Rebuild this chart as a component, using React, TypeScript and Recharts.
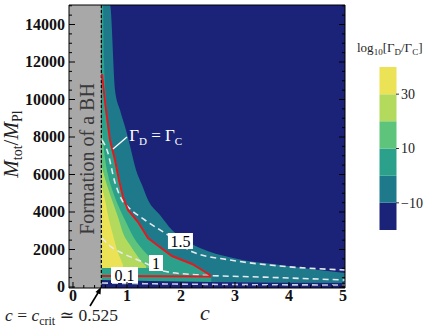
import React from "react";
import {
  ComposedChart,
  BarChart,
  Bar,
  Cell,
  Area,
  Line,
  XAxis,
  YAxis,
  CartesianGrid,
  ReferenceArea,
  ReferenceLine,
  ReferenceDot,
} from "recharts";

const serif = "Liberation Serif, DejaVu Serif, serif";

// colour levels of log10[GammaD/GammaC]
const bandEdges = [-20, -10, 0, 10, 20, 30, 40];
const bandColors = ["#1b2379", "#1e7a8b", "#2ba18c", "#5ec47b", "#b3da5d", "#ebe255"];
const barTicks = [-10, 10, 30];

const cCrit = 0.525;
const xMajor = [0, 1, 2, 3, 4, 5];
const yMajor = [0, 2000, 4000, 6000, 8000, 10000, 12000, 14000];

// contour edges, [c, Mtot/MPl]
const edgeM10: [number, number][] = [
  [0.525, 15040], [0.685, 15040], [0.778, 10500], [0.87, 9440], [0.981, 8370],
  [1.074, 7310], [1.167, 6240], [1.278, 5440], [1.389, 4640], [1.611, 3840],
  [1.833, 3040], [2.074, 2510], [2.352, 2080], [2.963, 1550], [3.833, 1170], [5.037, 750],
];
const edge0: [number, number][] = [
  [0.525, 15040], [0.556, 15040], [0.574, 12100], [0.611, 9970], [0.69, 7840],
  [0.79, 6773], [0.87, 5707], [0.94, 4800], [1.04, 4107], [1.22, 3467],
  [1.41, 2613], [1.57, 2240], [1.85, 1653], [2.22, 1227], [2.41, 907], [2.56, 640],
];
const edge10: [number, number][] = [
  [0.525, 8907], [0.574, 7307], [0.648, 5973], [0.741, 5067], [0.833, 4373],
  [0.963, 3573], [1.13, 2613], [1.296, 1973], [1.444, 1547], [1.611, 1173],
];
const edge20: [number, number][] = [
  [0.525, 6507], [0.611, 5600], [0.722, 4640], [0.833, 3733], [0.926, 2880],
  [1.056, 2240], [1.167, 1760], [1.278, 1333], [1.352, 1120],
];
const edge30: [number, number][] = [
  [0.525, 5440], [0.593, 4640], [0.667, 3573], [0.741, 2773], [0.815, 1973],
  [0.889, 1440], [0.926, 1173],
];
const lowStrip: [number, number][] = [[0.525, 1010], [1.7, 1010]];
const lowNavy: [number, number][] = [[0.525, 373], [1.426, 320], [2.537, 267], [5.037, 213]];

// Gamma_D = Gamma_C (red), closed along the bottom
const redEdge: [number, number][] = [
  [0.537, 11360], [0.611, 9440], [0.685, 7840], [0.778, 6773], [0.852, 5707],
  [0.926, 4800], [1.019, 4107], [1.204, 3467], [1.389, 2613], [1.556, 2240],
  [1.833, 1653], [2.204, 1227], [2.389, 907], [2.537, 640], [2.537, 560], [0.537, 587],
];
// dashed curves
const dash15: [number, number][] = [
  [0.537, 7840], [0.63, 7307], [0.78, 5547], [0.907, 4640], [1.02, 4267],
  [1.33, 3573], [1.76, 2773], [2.22, 1867], [2.91, 1440], [3.83, 1120], [5.037, 907],
];
const dash1: [number, number][] = [
  [0.537, 2613], [0.685, 2187], [0.87, 1867], [1.111, 1547], [1.333, 1280],
  [1.667, 853], [2.352, 640], [3.463, 533], [5.037, 373],
];
const dash01: [number, number][] = [[0.537, 213], [1.5, 170], [3, 130], [5.037, 107]];

const curveLabels = [
  { text: "1.5", c: 1.99, M: 2453, w: 25 },
  { text: "1", c: 1.537, M: 1280, w: 14 },
  { text: "0.1", c: 0.954, M: 640, w: 27 },
];

const rows = (pts: [number, number][]) => pts.map(([c, M]) => ({ c, M }));

const xTicks = Array.from({ length: 26 }, (_, i) => +(i * 0.2).toFixed(1));
const yTicks = Array.from({ length: 31 }, (_, i) => i * 500);

const isMajorX = (v: number) => xMajor.some((m) => Math.abs(m - v) < 1e-6);
const isMajorY = (v: number) => yMajor.includes(v);

function tickFor(side: "l" | "r" | "b" | "t") {
  return (p: any) => {
    const v = p.payload.value;
    const major = side === "l" || side === "r" ? isMajorY(v) : isMajorX(v);
    const len = major ? 6 : 3;
    const { x, y } = p;
    if (side === "l")
      return (
        <g>
          <line x1={x} y1={y} x2={x + len} y2={y} stroke="#000" />
          {major && (
            <text x={x - 4} y={y + 5} textAnchor="end" fontFamily={serif} fontSize={16} fontWeight="bold" fill="#111">
              {v}
            </text>
          )}
        </g>
      );
    if (side === "r") return <line x1={x} y1={y} x2={x - len} y2={y} stroke="#000" />;
    if (side === "t") return <line x1={x} y1={y} x2={x} y2={y + len} stroke="#000" />;
    return (
      <g>
        <line x1={x} y1={y} x2={x} y2={y - len} stroke="#000" />
        {major && (
          <text x={x} y={y + 12.5} textAnchor="middle" fontFamily={serif} fontSize={16} fontWeight="bold" fill="#111">
            {v}
          </text>
        )}
      </g>
    );
  };
}

const axisCommon = {
  type: "number" as const,
  allowDataOverflow: true,
  tickSize: 0,
  tickMargin: 0,
  tickLine: false,
  interval: 0 as const,
  axisLine: { stroke: "#000" },
};

const colorBar = [
  { x: 0.5, range: bandEdges.slice(0, 2) },
  { x: 0.5, range: bandEdges.slice(1, 3) },
  { x: 0.5, range: bandEdges.slice(2, 4) },
  { x: 0.5, range: bandEdges.slice(3, 5) },
  { x: 0.5, range: bandEdges.slice(4, 6) },
  { x: 0.5, range: bandEdges.slice(5, 7) },
];

export default function App() {
  const fills: [[number, number][], string][] = [
    [edgeM10, bandColors[1]],
    [edge0, bandColors[2]],
    [edge10, bandColors[3]],
    [edge20, bandColors[4]],
    [edge30, bandColors[5]],
    [lowStrip, bandColors[2]],
    [lowNavy, bandColors[0]],
  ];

  return (
    <div style={{ position: "absolute", left: 0, top: 0, width: 444, height: 327, background: "#fff" }}>
      <ComposedChart width={444} height={327} margin={{ top: 0, right: 94, bottom: 9, left: 9 }}>
        <CartesianGrid horizontal={false} vertical={false} fill={bandColors[0]} xAxisId="b" yAxisId="l" />
        <XAxis xAxisId="b" dataKey="c" domain={[-0.074, 5.037]} ticks={xTicks} height={30} tick={tickFor("b")} {...axisCommon} />
        <XAxis xAxisId="t" orientation="top" domain={[-0.074, 5.037]} ticks={xTicks} height={5} tick={tickFor("t")} {...axisCommon} />
        <YAxis yAxisId="l" domain={[-53, 15040]} ticks={yTicks} width={60} tick={tickFor("l")} {...axisCommon} />
        <YAxis yAxisId="r" orientation="right" domain={[-53, 15040]} ticks={yTicks} width={5} tick={tickFor("r")} {...axisCommon} />

        <ReferenceArea xAxisId="b" yAxisId="l" x1={-0.074} x2={cCrit} fill="#a8a8a8" fillOpacity={1} stroke="none" />

        {fills.map(([pts, col], i) => (
          <Area
            key={`band-${i}`}
            xAxisId="b"
            yAxisId="l"
            data={rows(pts)}
            dataKey="M"
            type="monotoneX"
            baseValue="dataMin"
            fill={col}
            fillOpacity={1}
            stroke="none"
            dot={false}
            activeDot={false}
            isAnimationActive={false}
          />
        ))}

        <ReferenceLine xAxisId="b" yAxisId="l" x={cCrit} stroke="#000" strokeDasharray="3 2" strokeWidth={1.2} />

        <Line xAxisId="b" yAxisId="l" data={rows(dash15)} dataKey="M" type="monotoneX" stroke="#e6e9f0" strokeWidth={1.6} strokeDasharray="6 4" dot={false} activeDot={false} isAnimationActive={false} />
        <Line xAxisId="b" yAxisId="l" data={rows(dash1)} dataKey="M" type="monotoneX" stroke="#e6e9f0" strokeWidth={1.6} strokeDasharray="6 4" dot={false} activeDot={false} isAnimationActive={false} />
        <Line xAxisId="b" yAxisId="l" data={rows(dash01)} dataKey="M" type="monotoneX" stroke="#c9cde4" strokeWidth={1.6} strokeDasharray="6 4" dot={false} activeDot={false} isAnimationActive={false} />
        <Line xAxisId="b" yAxisId="l" data={rows(redEdge)} dataKey="M" type="linear" stroke="#e3191f" strokeWidth={2} dot={false} activeDot={false} isAnimationActive={false} />

        <ReferenceLine xAxisId="b" yAxisId="l" segment={[{ x: 0.74, y: 7360 }, { x: 1.0, y: 8000 }]} stroke="#fff" strokeWidth={1.3} />
        <ReferenceDot
          xAxisId="b"
          yAxisId="l"
          x={1.04}
          y={8000}
          r={0}
          shape={(p: any) => (
            <text x={p.cx} y={p.cy + 4} fontFamily={serif} fontSize={17} fill="#fff">
              Γ<tspan fontSize={11} dy={4}>D</tspan>
              <tspan dy={-4}> = Γ</tspan>
              <tspan fontSize={11} dy={4}>C</tspan>
            </text>
          )}
        />
        {curveLabels.map((l) => (
          <ReferenceDot
            key={l.text}
            xAxisId="b"
            yAxisId="l"
            x={l.c}
            y={l.M}
            r={0}
            shape={(p: any) => (
              <g>
                <rect x={p.cx - l.w / 2} y={p.cy - 8} width={l.w} height={16} fill="#fff" />
                <text x={p.cx} y={p.cy + 5.5} textAnchor="middle" fontFamily={serif} fontSize={16} fill="#000">
                  {l.text}
                </text>
              </g>
            )}
          />
        ))}
      </ComposedChart>

      <div style={{ position: "absolute", left: 379, top: 62 }}>
        <BarChart width={50} height={173} data={colorBar} margin={{ top: 5, right: 0, bottom: 5, left: 0 }}>
          <XAxis type="number" dataKey="x" domain={[0, 1]} hide />
          <YAxis
            type="number"
            orientation="right"
            domain={[-20, 40]}
            allowDataOverflow
            ticks={barTicks}
            width={33}
            axisLine={false}
            tickSize={3}
            tickMargin={2}
            tickLine={{ stroke: "#333" }}
            tickFormatter={(v: number) => (v < 0 ? `\u2212${-v}` : `${v}`)}
            tick={{ fontFamily: serif, fontSize: 14, fill: "#222" }}
          />
          <Bar dataKey="range" barSize={17} isAnimationActive={false}>
            {colorBar.map((_, i) => (
              <Cell key={i} fill={bandColors[i]} />
            ))}
          </Bar>
        </BarChart>
      </div>

      <svg width={444} height={327} style={{ position: "absolute", left: 0, top: 0, pointerEvents: "none" }}>
        <text x={357} y={52} fontFamily={serif} fontSize={13} fill="#222">
          log<tspan fontSize={9} dy={3}>10</tspan>
          <tspan dy={-3}>[Γ</tspan>
          <tspan fontSize={9} dy={3}>D</tspan>
          <tspan dy={-3}>/Γ</tspan>
          <tspan fontSize={9} dy={3}>C</tspan>
          <tspan dy={-3}>]</tspan>
        </text>
        <text transform="translate(18,144) rotate(-90)" textAnchor="middle" fontFamily={serif} fontSize={21} fill="#222">
          <tspan fontStyle="italic">M</tspan>
          <tspan fontSize={14} dy={4}>tot</tspan>
          <tspan dy={-4}>/</tspan>
          <tspan fontStyle="italic">M</tspan>
          <tspan fontSize={14} dy={4}>Pl</tspan>
        </text>
        <text transform="translate(94,159) rotate(-90)" textAnchor="middle" fontFamily={serif} fontSize={20} fill="#3a3a3a">
          Formation of a BH
        </text>
        <text x={205} y={320} textAnchor="middle" fontFamily={serif} fontSize={22} fontStyle="italic" fill="#222">
          c
        </text>
        <text x={5} y={321} fontFamily={serif} fontSize={17.5} fill="#222">
          <tspan fontStyle="italic">c</tspan> = <tspan fontStyle="italic">c</tspan>
          <tspan fontSize={12} dy={4}>crit</tspan>
          <tspan dy={-4}> ≃ 0.525</tspan>
        </text>
        <line x1={90} y1={306} x2={98.5} y2={292} stroke="#000" strokeWidth={1.6} />
        <polygon points="101,287 95.5,292 100.5,294.5" fill="#000" />
      </svg>
    </div>
  );
}
